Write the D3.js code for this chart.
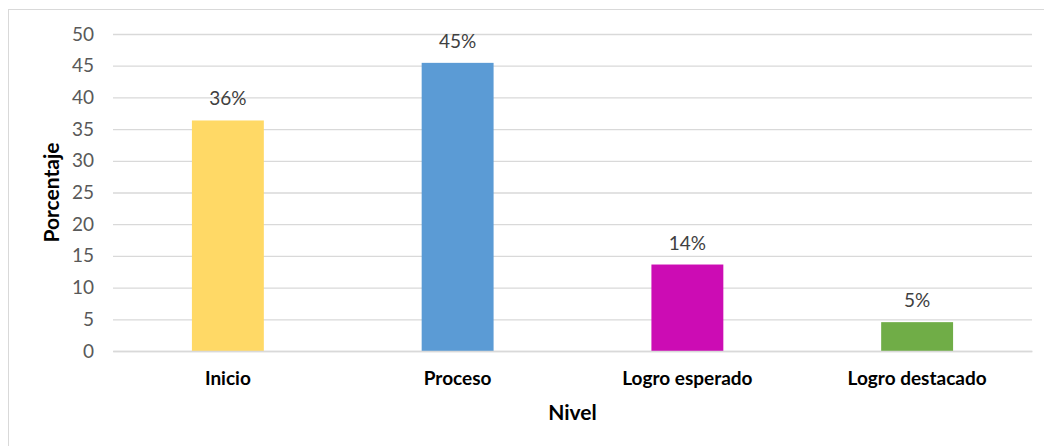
<!DOCTYPE html>
<html><head><meta charset="utf-8">
<script src="https://cdn.jsdelivr.net/npm/d3@7"></script>
<style>html,body{margin:0;padding:0;background:#fff;}</style>
</head><body>
<svg id="chart" width="1044" height="446"></svg>
<script>
const categories = ["Inicio", "Proceso", "Logro esperado", "Logro destacado"];
const values = [36.36, 45.45, 13.64, 4.55];
const labels = ["36%", "45%", "14%", "5%"];
const colors = ["#FFD966", "#5B9BD5", "#CC0CB4", "#70AD47"];
const yTicks = [0, 5, 10, 15, 20, 25, 30, 35, 40, 45, 50];
const yTitle = "Porcentaje";
const xTitle = "Nivel";

const svg = d3.select("#chart");
const font = "Lato, 'Open Sans', sans-serif";
const m = {left: 113, right: 1032, top: 34, bottom: 351};

svg.append("rect").attr("x", 8.5).attr("y", 9.5).attr("width", 1200).attr("height", 600)
  .attr("fill", "none").attr("stroke", "#d9d9d9");

const x = d3.scaleBand().domain(categories).range([m.left, m.right]).paddingInner(0.687).paddingOuter(0.3435);
const y = d3.scaleLinear().domain([0, 50]).range([m.bottom, m.top]);

const yAxis = svg.append("g").attr("transform", `translate(${m.left},0)`)
  .call(d3.axisLeft(y).tickValues(yTicks).tickSize(-(m.right - m.left)).tickPadding(19));
yAxis.select(".domain").remove();
yAxis.selectAll(".tick line").attr("stroke", "#d9d9d9").attr("stroke-width", 1.3);
yAxis.selectAll(".tick text").attr("fill", "#595959").style("font-family", font).style("font-size", "19px");

svg.selectAll("rect.bar").data(values).join("rect").attr("class", "bar")
  .attr("x", (d, i) => x(categories[i]))
  .attr("width", x.bandwidth())
  .attr("y", d => y(d))
  .attr("height", d => y(0) - y(d))
  .attr("fill", (d, i) => colors[i]);

svg.selectAll("text.dl").data(values).join("text").attr("class", "dl")
  .attr("x", (d, i) => x(categories[i]) + x.bandwidth() / 2)
  .attr("y", d => y(d) - 15)
  .attr("text-anchor", "middle")
  .attr("fill", "#404040")
  .style("font-family", font).style("font-size", "19px")
  .text((d, i) => labels[i]);

const xAxis = svg.append("g").attr("transform", `translate(0,${m.bottom})`)
  .call(d3.axisBottom(x).tickSize(0).tickPadding(21));
xAxis.select(".domain").attr("stroke", "#d9d9d9").attr("stroke-width", 1.3);
xAxis.selectAll(".tick text").attr("fill", "#000").style("font-family", font)
  .style("font-size", "19px").style("font-weight", "bold");

svg.append("text").attr("x", (m.left + m.right) / 2).attr("y", 420)
  .attr("text-anchor", "middle").attr("fill", "#000")
  .style("font-family", font).style("font-size", "21px").style("font-weight", "bold")
  .text(xTitle);

svg.append("text").attr("transform", `translate(59,${(m.top + m.bottom) / 2}) rotate(-90)`)
  .attr("text-anchor", "middle").attr("fill", "#000")
  .style("font-family", font).style("font-size", "21px").style("font-weight", "bold")
  .text(yTitle);
</script>
</body></html>
